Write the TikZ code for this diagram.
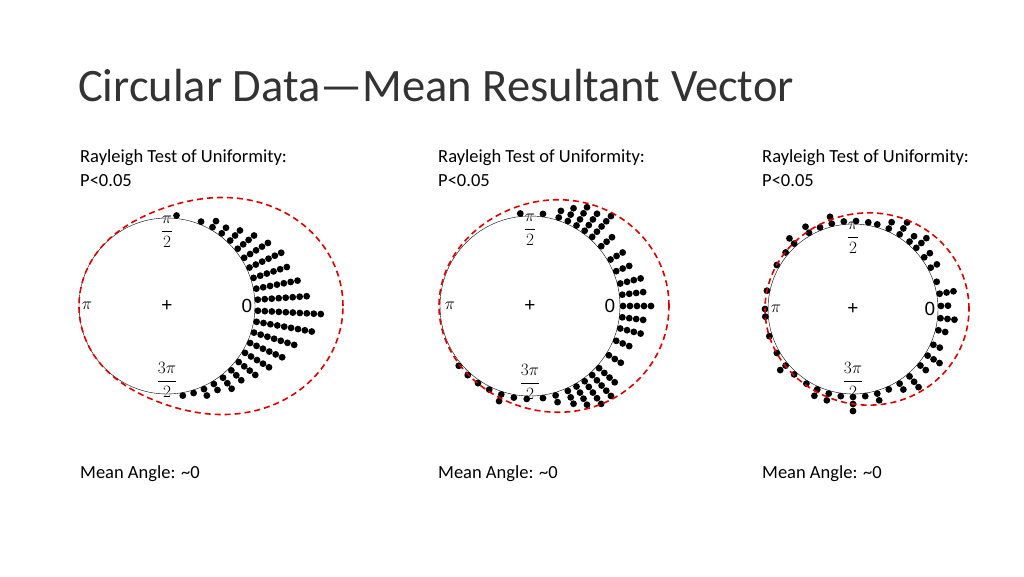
\documentclass[tikz,border=0pt]{standalone}
\usepackage{fontspec}
\setmainfont{Carlito}
\newfontfamily\plotfont{Liberation Sans}
\begin{document}
\begin{tikzpicture}[x=1pt,y=1pt,
  lab/.style={anchor=west,font=\fontsize{18.5}{20}\selectfont,inner sep=0},
  axl/.style={font=\plotfont\fontsize{19}{20}\selectfont,inner sep=0},
  dens/.style={red!85!black,line width=1.6pt,dash pattern=on 6pt off 4pt},
  dot/.style={fill=black}]
\useasboundingbox (0,0) rectangle (1024,576);
\fill[white] (0,0) rectangle (1024,576);
\node[anchor=west,inner sep=0,font=\fontsize{46.5}{50}\selectfont,text=black!80] (title) at (78,490) {Circular Data—Mean Resultant Vector};
\foreach \x/\nm in {80/a,438/b,762/c}{
  \node[lab] (r\nm) at (\x,418) {Rayleigh Test of Uniformity:};
  \node[lab] (p\nm) at (\x,395) {P<0.05};
  \node[lab] (m\nm) at (\x,102) {Mean Angle: \textasciitilde0};
}
% plot 1
\begin{scope}[shift={(167,270)}]
  \draw[thin] (0,0) circle (88);
  \node[axl] (pi1) at (-80,0) {$\pi$};
  \node[axl] (c1) at (0,0) {+};
  \node[axl] (z1) at (80,0) {0};
  \node[axl] (h1) at (0,74) {$\displaystyle\frac{\pi}{2}$};
  \node[axl] (t1) at (0,-74) {$\displaystyle\frac{3\pi}{2}$};
  \foreach \a/\n in {84/1,68/1,60/2,53/2,46/3,39/4,32/5,25/6,18/6,11/7,4/8,-3/10,-10/9,-17/7,-24/6,-31/5,-38/4,-45/3,-52/3,-59/2,-66/2,-73/1,-80/1}
    \foreach \k in {1,...,\n}
      \fill[dot] (\a:{91+7*(\k-1)}) circle (3.4);
  \draw[dens] plot[domain=0:360,samples=120,smooth] (\x:{88+88*((1+cos(\x))/2)^3});
\end{scope}
% plot 2
\begin{scope}[shift={(530,270)}]
  \draw[thin] (0,0) circle (90);
  \node[axl] (pi2) at (-80,0) {$\pi$};
  \node[axl] (c2) at (0,0) {+};
  \node[axl] (z2) at (80,0) {0};
  \node[axl] (h2) at (0,76) {$\displaystyle\frac{\pi}{2}$};
  \node[axl] (t2) at (0,-76) {$\displaystyle\frac{3\pi}{2}$};
  \foreach \a/\n in {96/1,82/1,72/2,66/3,60/4,54/4,48/5,40/3,30/3,22/3,14/4,7/4,0/5,-7/4,-14/4,-22/3,-32/3,-42/4,-48/5,-54/5,-60/4,-66/3,-74/2,-82/1,-92/1,-100/1,-108/2,-116/1,-124/1,-132/1,-140/1}
    \foreach \k in {1,...,\n}
      \fill[dot] (\a:{93+7*(\k-1)}) circle (3.4);
  \draw[dens] plot[domain=0:360,samples=120,smooth] (\x:{91+48*((1+cos(\x))/2)^2});
\end{scope}
% plot 3
\begin{scope}[shift={(853,267)}]
  \draw[thin] (0,0) circle (85);
  \node[axl] (pi3) at (-77,0) {$\pi$};
  \node[axl] (c3) at (0,0) {+};
  \node[axl] (z3) at (77,0) {0};
  \node[axl] (h3) at (0,71) {$\displaystyle\frac{\pi}{2}$};
  \node[axl] (t3) at (0,-71) {$\displaystyle\frac{3\pi}{2}$};
  \foreach \a/\n in {120/2,112/1,104/2,96/1,88/1,80/1,74/1,66/2,58/3,50/2,44/3,36/2,28/2,18/1,10/3,2/2,-6/3,-14/2,-24/2,-32/3,-40/2,-50/3,-58/2,-66/1,-74/2,-82/1,-90/3,-98/1,-106/2,-114/2,-122/1,-132/1,-140/2,-150/1,-162/1,-175/1,180/1,168/1,150/1,140/1,132/2}
    \foreach \k in {1,...,\n}
      \fill[dot] (\a:{88+7*(\k-1)}) circle (3.4);
  \draw[dens] plot[domain=0:360,samples=120,smooth] (\x:{88+28*((1+cos(\x))/2)^2});
\end{scope}
\end{tikzpicture}
\end{document}
